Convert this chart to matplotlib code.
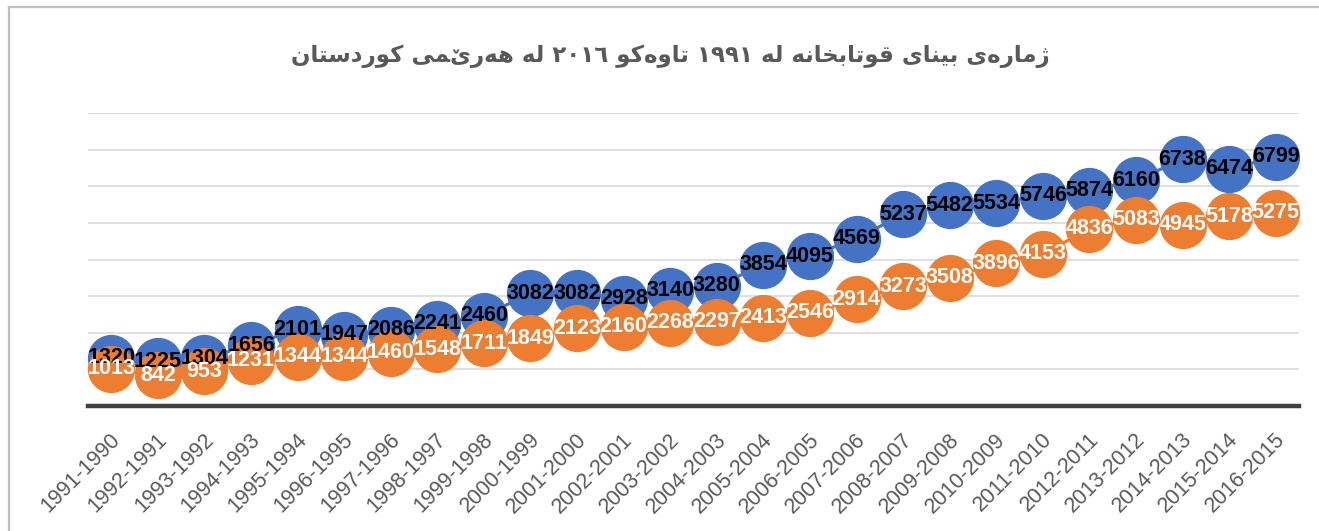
import re
import matplotlib
matplotlib.use("Agg")
import matplotlib.pyplot as plt
from matplotlib.lines import Line2D
from matplotlib.transforms import ScaledTranslation

# School buildings per year (blue = buildings, orange = second series)
categories = ["1991-1990", "1992-1991", "1993-1992", "1994-1993", "1995-1994",
              "1996-1995", "1997-1996", "1998-1997", "1999-1998", "2000-1999",
              "2001-2000", "2002-2001", "2003-2002", "2004-2003", "2005-2004",
              "2006-2005", "2007-2006", "2008-2007", "2009-2008", "2010-2009",
              "2011-2010", "2012-2011", "2013-2012", "2014-2013", "2015-2014",
              "2016-2015"]
blue_values = [1320, 1225, 1304, 1656, 2101, 1947, 2086, 2241, 2460, 3082,
               3082, 2928, 3140, 3280, 3854, 4095, 4569, 5237, 5482, 5534,
               5746, 5874, 6160, 6738, 6474, 6799]
orange_values = [1013, 842, 953, 1231, 1344, 1344, 1460, 1548, 1711, 1849,
                 2123, 2160, 2268, 2297, 2413, 2546, 2914, 3273, 3508, 3896,
                 4153, 4836, 5083, 4945, 5178, 5275]
title = "ژمارەی بینای قوتابخانە لە ١٩٩١ تاوەکو ٢٠١٦ لە هەرێمی کوردستان"

BLUE = "#4472C4"
ORANGE = "#ED7D31"

# matplotlib has no arabic shaping, so pick presentation forms by hand
# (isolated, final, initial, medial); None = right-joining letter
FORMS = {
    "\u0627": ("\uFE8D", "\uFE8E", None, None),
    "\u0628": ("\uFE8F", "\uFE90", "\uFE91", "\uFE92"),
    "\u062A": ("\uFE95", "\uFE96", "\uFE97", "\uFE98"),
    "\u062E": ("\uFEA5", "\uFEA6", "\uFEA7", "\uFEA8"),
    "\u062F": ("\uFEA9", "\uFEAA", None, None),
    "\u0631": ("\uFEAD", "\uFEAE", None, None),
    "\u0633": ("\uFEB1", "\uFEB2", "\uFEB3", "\uFEB4"),
    "\u0642": ("\uFED5", "\uFED6", "\uFED7", "\uFED8"),
    "\u0644": ("\uFEDD", "\uFEDE", "\uFEDF", "\uFEE0"),
    "\u0645": ("\uFEE1", "\uFEE2", "\uFEE3", "\uFEE4"),
    "\u0646": ("\uFEE5", "\uFEE6", "\uFEE7", "\uFEE8"),
    "\u0647": ("\uFEE9", "\uFEEA", "\uFEEB", "\uFEEC"),
    "\u0648": ("\uFEED", "\uFEEE", None, None),
    "\u0698": ("\uFB8A", "\uFB8B", None, None),
    "\u06A9": ("\uFB8E", "\uFB8F", "\uFB90", "\uFB91"),
    "\u06CC": ("\uFBFC", "\uFBFD", "\uFBFE", "\uFBFF"),
    "\u06D5": ("\u06D5", "\uFEEA", None, None),
    "\u06CE": ("\u06CE", "\u06CE", "\u06CE", "\u06CE"),
}


def shape_rtl(text):
    out = []
    for i, ch in enumerate(text):
        if ch not in FORMS:
            out.append(ch)
            continue
        prev = text[i - 1] if i > 0 else ""
        nxt = text[i + 1] if i + 1 < len(text) else ""
        join_prev = prev in FORMS and FORMS[prev][2] is not None
        join_next = FORMS[ch][2] is not None and nxt in FORMS
        iso, fin, ini, med = FORMS[ch]
        if join_prev and join_next:
            out.append(med)
        elif join_prev:
            out.append(fin)
        elif join_next:
            out.append(ini)
        else:
            out.append(iso)
    visual = "".join(out)[::-1]
    # numbers stay left-to-right
    return re.sub(r"[\u0660-\u0669]+", lambda m: m.group(0)[::-1], visual)


fig = plt.figure(figsize=(13.19, 5.31), dpi=100)
ax = fig.add_axes([88 / 1319, 1 - 406 / 531, (1299 - 88) / 1319, (406 - 113) / 531])

x = list(range(len(categories)))
ax.plot(x, blue_values, color=BLUE, lw=2.25, marker="o", ms=33,
        mec=BLUE, mfc=BLUE, zorder=3, clip_on=False)
ax.plot(x, orange_values, color=ORANGE, lw=2.25, marker="o", ms=33,
        mec=ORANGE, mfc=ORANGE, zorder=4, clip_on=False)

for xi, v in zip(x, blue_values):
    ax.text(xi, v, str(v), ha="center", va="center", fontsize=15.5,
            fontweight="bold", family="Liberation Sans", color="black", zorder=6)
for xi, v in zip(x, orange_values):
    ax.text(xi, v, str(v), ha="center", va="center", fontsize=15.5,
            fontweight="bold", family="Liberation Sans", color="white", zorder=7)

ax.set_xlim(-0.5, len(categories) - 0.5)
ax.set_ylim(0, 8000)
ax.set_yticks(range(0, 8001, 1000))
ax.yaxis.grid(True, color="#D9D9D9", lw=1.2)
ax.set_axisbelow(True)
ax.tick_params(axis="y", left=False, labelleft=False)
for side in ["top", "right", "left"]:
    ax.spines[side].set_visible(False)
ax.spines["bottom"].set_color("#404040")
ax.spines["bottom"].set_linewidth(3.2)

ax.set_xticks(x)
ax.set_xticklabels(categories, rotation=45, ha="right", va="center",
                   rotation_mode="anchor", fontsize=15.5, family="Liberation Sans",
                   color="#595959")
ax.tick_params(axis="x", length=0, pad=22)
for lbl in ax.get_xticklabels():
    lbl.set_transform(lbl.get_transform() + ScaledTranslation(6 / 100, 0, fig.dpi_scale_trans))

fig.text(670 / 1319, 1 - 56 / 531, shape_rtl(title), ha="center", va="center",
         fontsize=16.5, fontweight="bold", family=["DejaVu Sans"], color="#595959")

# chart frame (only left and top edges show in the crop)
fig.add_artist(Line2D([9 / 1319, 9 / 1319], [0, 1 - 7 / 531], transform=fig.transFigure,
                      color="#BFBFBF", lw=1.6))
fig.add_artist(Line2D([9 / 1319, 1], [1 - 7 / 531, 1 - 7 / 531], transform=fig.transFigure,
                      color="#BFBFBF", lw=1.6))

fig.savefig("out.png", dpi=100)
